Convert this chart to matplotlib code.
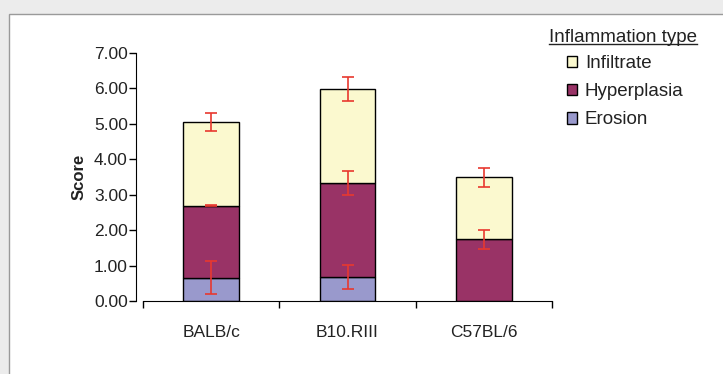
import matplotlib
matplotlib.use("Agg")
import matplotlib.pyplot as plt
from matplotlib.patches import Patch, Rectangle
from matplotlib.lines import Line2D
import numpy as np

plt.rcParams['font.family'] = ['Liberation Sans', 'DejaVu Sans']

# mean scores per strain, stacked bottom to top
strains = ["BALB/c", "B10.RIII", "C57BL/6"]
erosion = [0.66, 0.67, 0.0]
hyperplasia = [2.03, 2.65, 1.74]
infiltrate = [2.36, 2.66, 1.75]
# error bar half-widths at the top of each segment
erosion_err = [0.47, 0.34, 0.0]
hyperplasia_err = [0.01, 0.34, 0.26]
infiltrate_err = [0.26, 0.33, 0.27]

c_infil = "#fbf9cf"
c_hyper = "#993366"
c_eros = "#9999cc"
c_err = "#e8382f"
c_text = "#222222"

fig = plt.figure(figsize=(7.23, 3.74), dpi=100)
fig.patch.set_facecolor("#ececec")
fig.add_artist(Rectangle((9 / 723, -0.1), 1.0, (374 - 14) / 374 + 0.1,
                         transform=fig.transFigure, facecolor="white",
                         edgecolor="#9a9a9a", linewidth=1.0, zorder=-10))

ax = fig.add_axes([143 / 723, 73 / 374, 409 / 723, 248 / 374])
ax.set_facecolor("white")

x = np.arange(len(strains))
w = 0.41
ero = np.array(erosion)
hyp = np.array(hyperplasia)
inf = np.array(infiltrate)

ax.bar(x, ero, w, color=c_eros, edgecolor="black", linewidth=1.0)
ax.bar(x, hyp, w, bottom=ero, color=c_hyper, edgecolor="black", linewidth=1.0)
ax.bar(x, inf, w, bottom=ero + hyp, color=c_infil, edgecolor="black", linewidth=1.0)

err_kw = dict(fmt="none", ecolor=c_err, elinewidth=1.2, capsize=4.6, capthick=1.2)
m = ero > 0
ax.errorbar(x[m], ero[m], yerr=np.array(erosion_err)[m], **err_kw)
ax.errorbar(x, ero + hyp, yerr=hyperplasia_err, **err_kw)
ax.errorbar(x, ero + hyp + inf, yerr=infiltrate_err, **err_kw)

ax.set_xlim(-0.5, 2.5)
ax.set_ylim(0, 7)
ax.set_yticks(np.arange(0, 8, 1))
ax.set_yticklabels([f"{v:.2f}" for v in range(8)])
ax.set_xticks([-0.5, 0.5, 1.5, 2.5], minor=False)
ax.set_xticklabels([])
ax.set_xticks(x, minor=True)
ax.set_xticklabels(strains, minor=True)
ax.tick_params(axis="x", which="minor", length=0, pad=17, labelsize=12.5,
               labelcolor=c_text)
ax.tick_params(axis="x", which="major", length=5, width=1, direction="out")
ax.tick_params(axis="y", length=5, width=1, direction="out", pad=1, labelsize=12.5,
               labelcolor=c_text)
for s in ["top", "right"]:
    ax.spines[s].set_visible(False)
ax.spines["left"].set_position(("outward", 5))
ax.set_ylabel("Score", fontsize=12, fontweight="bold", labelpad=5, color=c_text)

handles = [Patch(facecolor=c_infil, edgecolor="black"),
           Patch(facecolor=c_hyper, edgecolor="black"),
           Patch(facecolor=c_eros, edgecolor="black")]
fig.legend(handles, ["Infiltrate", "Hyperplasia", "Erosion"],
           loc="upper left", bbox_to_anchor=(567 / 723, 1 - 55 / 374),
           frameon=False, fontsize=13.5, handlelength=0.55, handleheight=0.55,
           handletextpad=0.4, labelspacing=0.6, borderaxespad=0, borderpad=0,
           labelcolor=c_text)

title = fig.text(623 / 723, 1 - 37 / 374, "Inflammation type", fontsize=13.5,
                 ha="center", va="center", color=c_text)
fig.canvas.draw()
bb = title.get_window_extent().transformed(fig.transFigure.inverted())
fig.add_artist(Line2D([bb.x0, bb.x1], [bb.y0 + 0.004, bb.y0 + 0.004],
                      transform=fig.transFigure, color=c_text, linewidth=1))

fig.savefig("out.png", dpi=100, facecolor=fig.get_facecolor())
